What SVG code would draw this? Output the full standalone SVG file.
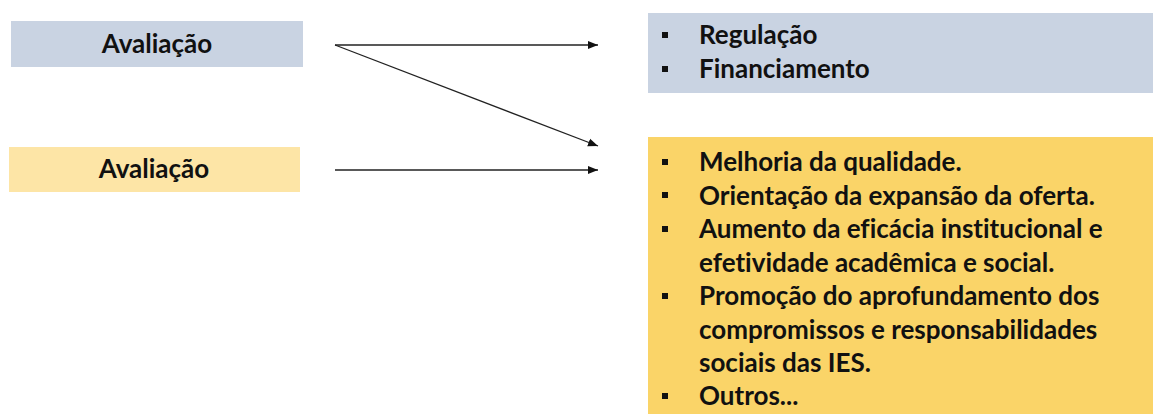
<svg xmlns="http://www.w3.org/2000/svg" width="1153" height="414" viewBox="0 0 1153 414">
<style>
.t{font-family:Lato,"Open Sans","Liberation Sans",sans-serif;font-weight:bold;fill:#111;font-variant-ligatures:none;}
.lbl{font-size:26px;text-anchor:middle;}
.it{font-size:26px;}
.c{stroke:#222;stroke-width:1.3;fill:none;}
.b{fill:#111;}
</style>
<defs>
<marker id="ah" viewBox="0 0 10 10" refX="10" refY="5" markerWidth="10" markerHeight="10" markerUnits="userSpaceOnUse" orient="auto">
<path d="M0,1 L10,5 L0,9 Z" fill="#111"/>
</marker>
</defs>
<rect width="1153" height="414" fill="#fff"/>
<g id="node-avaliacao-1">
<rect x="11" y="21" width="292" height="46" fill="#C9D3E2"/>
<text class="t lbl" x="157" y="53">Avaliação</text>
</g>
<g id="node-avaliacao-2">
<rect x="9" y="147" width="291" height="45" fill="#FDE5A6"/>
<text class="t lbl" x="154" y="178">Avaliação</text>
</g>
<g id="node-regulacao">
<rect x="648" y="13" width="505" height="80" fill="#C9D3E2"/>
<rect class="b" x="662" y="32" width="6" height="6"/>
<text class="t it" x="699" y="44">Regulação</text>
<rect class="b" x="662" y="66" width="6" height="6"/>
<text class="t it" x="699" y="78">Financiamento</text>
</g>
<g id="node-melhoria">
<rect x="648" y="137" width="505" height="277" fill="#FAD468"/>
<rect class="b" x="662" y="159" width="6" height="6"/>
<text class="t it" x="699" y="171">Melhoria da qualidade.</text>
<rect class="b" x="662" y="192" width="6" height="6"/>
<text class="t it" x="699" y="204.5">Orientação da expansão da oferta.</text>
<rect class="b" x="662" y="226" width="6" height="6"/>
<text class="t it" x="699" y="238">Aumento da eficácia institucional e</text>
<text class="t it" x="699" y="271.5">efetividade acadêmica e social.</text>
<rect class="b" x="662" y="293" width="6" height="6"/>
<text class="t it" x="699" y="305">Promoção do aprofundamento dos</text>
<text class="t it" x="699" y="338.5">compromissos e responsabilidades</text>
<text class="t it" x="699" y="372">sociais das IES.</text>
<rect class="b" x="662" y="393" width="6" height="6"/>
<text class="t it" x="699" y="405">Outros...</text>
</g>
<g id="connectors">
<line class="c" x1="335" y1="45" x2="598" y2="45" marker-end="url(#ah)"/>
<line class="c" x1="335" y1="45" x2="598" y2="146" marker-end="url(#ah)"/>
<line class="c" x1="335" y1="170" x2="598" y2="170" marker-end="url(#ah)"/>
</g>
</svg>
